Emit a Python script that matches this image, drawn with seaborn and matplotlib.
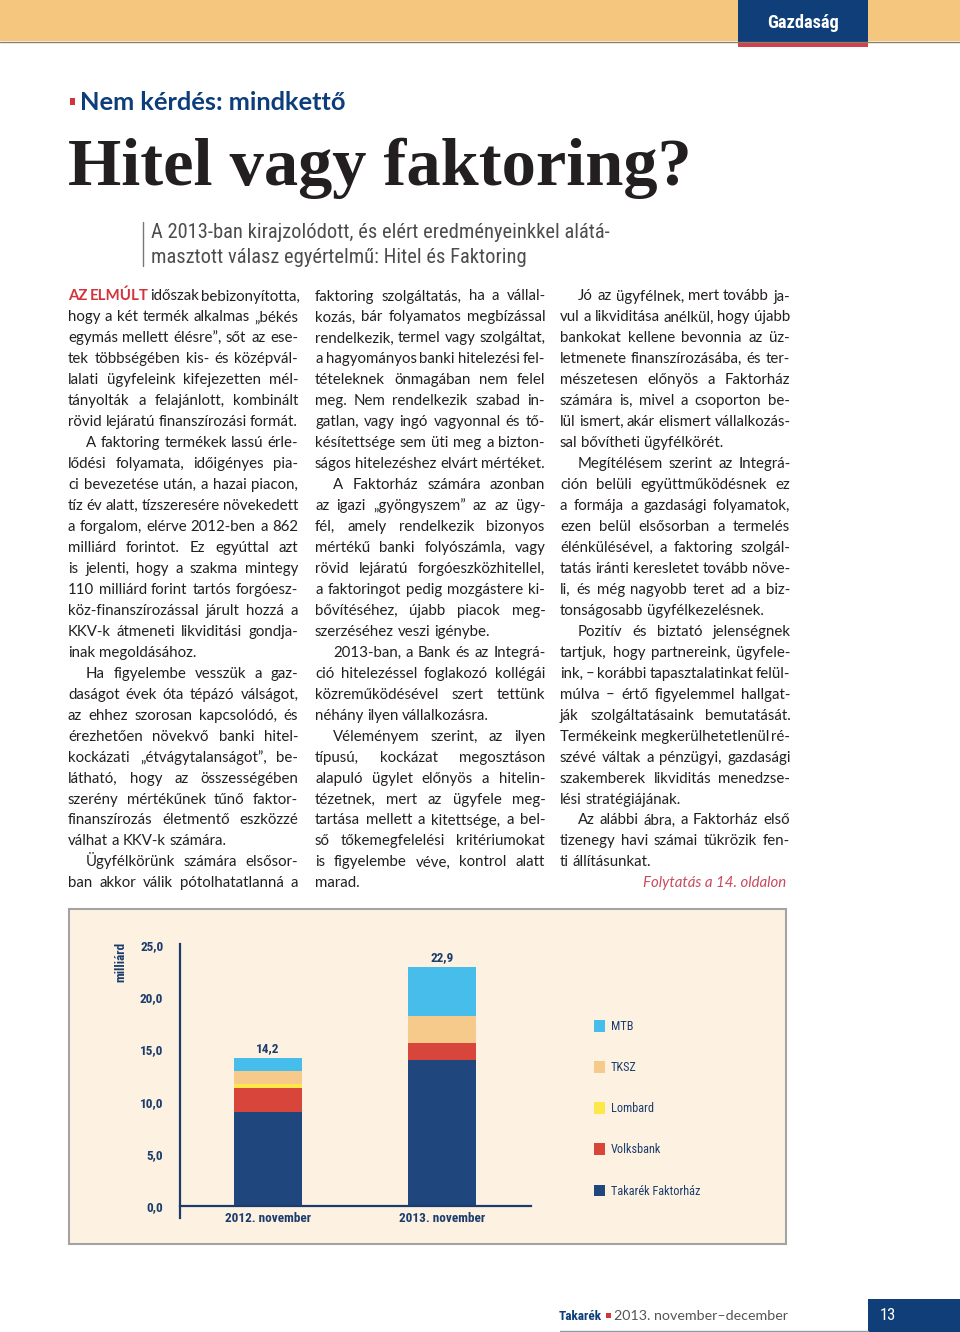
import pandas as pd
import seaborn as sns
import matplotlib
matplotlib.use('Agg')
import matplotlib.pyplot as plt
from matplotlib import font_manager
from matplotlib.patches import Rectangle
from matplotlib.lines import Line2D

W, H = 960, 1332

# chart data (milliard HUF)
periods = ['2012. november', '2013. november']
series_names = ['MTB', 'TKSZ', 'Lombard', 'Volksbank', 'Takarék Faktorház']
mtb = [1.3, 4.7]
tksz = [1.2, 2.6]
lombard = [0.4, 0.0]
volksbank = [2.3, 1.6]
takarek = [9.0, 14.0]
y_ticks = [0, 5, 10, 15, 20, 25]
series_colors = ['#46bdea', '#f5ca8b', '#fde84a', '#d8463b', '#1f477e']

# article text, '\t' marks a paragraph indent
col1 = [
    'AZ ELMÚLT időszak bebizonyította,',
    'hogy a két termék alkalmas „békés',
    'egymás mellett élésre”, sőt az ese-',
    'tek többségében kis- és középvál-',
    'lalati ügyfeleink kifejezetten mél-',
    'tányolták a felajánlott, kombinált',
    'rövid lejáratú finanszírozási formát.',
    '\tA faktoring termékek lassú érle-',
    'lődési folyamata, időigényes pia-',
    'ci bevezetése után, a hazai piacon,',
    'tíz év alatt, tízszeresére növekedett',
    'a forgalom, elérve 2012-ben a 862',
    'milliárd forintot. Ez egyúttal azt',
    'is jelenti, hogy a szakma mintegy',
    '110 milliárd forint tartós forgóesz-',
    'köz-finanszírozással járult hozzá a',
    'KKV-k átmeneti likviditási gondja-',
    'inak megoldásához.',
    '\tHa figyelembe vesszük a gaz-',
    'daságot évek óta tépázó válságot,',
    'az ehhez szorosan kapcsolódó, és',
    'érezhetően növekvő banki hitel-',
    'kockázati „étvágytalanságot”, be-',
    'látható, hogy az összességében',
    'szerény mértékűnek tűnő faktor-',
    'finanszírozás életmentő eszközzé',
    'válhat a KKV-k számára.',
    '\tÜgyfélkörünk számára elsősor-',
    'ban akkor válik pótolhatatlanná a',
]
col2 = [
    'faktoring szolgáltatás, ha a vállal-',
    'kozás, bár folyamatos megbízással',
    'rendelkezik, termel vagy szolgáltat,',
    'a hagyományos banki hitelezési fel-',
    'tételeknek önmagában nem felel',
    'meg. Nem rendelkezik szabad in-',
    'gatlan, vagy ingó vagyonnal és tő-',
    'késítettsége sem üti meg a bizton-',
    'ságos hitelezéshez elvárt mértéket.',
    '\tA Faktorház számára azonban',
    'az igazi „gyöngyszem” az az ügy-',
    'fél, amely rendelkezik bizonyos',
    'mértékű banki folyószámla, vagy',
    'rövid lejáratú forgóeszközhitellel,',
    'a faktoringot pedig mozgástere ki-',
    'bővítéséhez, újabb piacok meg-',
    'szerzéséhez veszi igénybe.',
    '\t2013-ban, a Bank és az Integrá-',
    'ció hitelezéssel foglakozó kollégái',
    'közreműködésével szert tettünk',
    'néhány ilyen vállalkozásra.',
    '\tVéleményem szerint, az ilyen',
    'típusú, kockázat megosztáson',
    'alapuló ügylet előnyös a hitelin-',
    'tézetnek, mert az ügyfele meg-',
    'tartása mellett a kitettsége, a bel-',
    'ső tőkemegfelelési kritériumokat',
    'is figyelembe véve, kontrol alatt',
    'marad.',
]
col3 = [
    '\tJó az ügyfélnek, mert tovább ja-',
    'vul a likviditása anélkül, hogy újabb',
    'bankokat kellene bevonnia az üz-',
    'letmenete finanszírozásába, és ter-',
    'mészetesen előnyös a Faktorház',
    'számára is, mivel a csoporton be-',
    'lül ismert, akár elismert vállalkozás-',
    'sal bővítheti ügyfélkörét.',
    '\tMegítélésem szerint az Integrá-',
    'ción belüli együttműködésnek ez',
    'a formája a gazdasági folyamatok,',
    'ezen belül elsősorban a termelés',
    'élénkülésével, a faktoring szolgál-',
    'tatás iránti keresletet tovább növe-',
    'li, és még nagyobb teret ad a biz-',
    'tonságosabb ügyfélkezelésnek.',
    '\tPozitív és biztató jelenségnek',
    'tartjuk, hogy partnereink, ügyfele-',
    'ink, – korábbi tapasztalatinkat felül-',
    'múlva – értő figyelemmel hallgat-',
    'ják szolgáltatásaink bemutatását.',
    'Termékeink megkerülhetetlenül ré-',
    'szévé váltak a pénzügyi, gazdasági',
    'szakemberek likviditás menedzse-',
    'lési stratégiájának.',
    '\tAz alábbi ábra, a Faktorház első',
    'tizenegy havi számai tükrözik fen-',
    'ti állításunkat.',
]

NAVY = '#1b3c6c'
RED = '#d2343c'
TEXT = '#231f20'

sns.set_theme(style='white')
plt.rcParams['font.family'] = ['Lato', 'DejaVu Sans']
installed = {f.name for f in font_manager.fontManager.ttflist}
NARROW = next((f for f in ['Liberation Sans Narrow', 'Roboto Condensed'] if f in installed), 'Roboto')

fig = plt.figure(figsize=(W / 100, H / 100), dpi=100)
fig.patch.set_facecolor('white')
renderer = fig.canvas.get_renderer()


def px(x):
    return x / W


def py(y):
    return 1 - y / H


def rect(x0, y0, x1, y1, **kw):
    fig.add_artist(Rectangle((px(x0), py(y1)), (x1 - x0) / W, (y1 - y0) / H,
                             transform=fig.transFigure, **kw))


def measure(t):
    return t.get_window_extent(renderer=renderer).width


def fit_text(x, y, s, width, **kw):
    t = fig.text(px(x), py(y), s, fontsize=20, va='baseline', **kw)
    t.set_fontsize(20 * width / measure(t))
    return t


# header band
rect(0, 0, 960, 41, facecolor='#f5c77e', edgecolor='none')
fig.add_artist(Line2D([0, 1], [py(41.5)] * 2, color='#8f7f60', lw=1, transform=fig.transFigure))
rect(738, 0, 868, 42, facecolor='#0f3e78', edgecolor='none')
rect(738, 42, 868, 47, facecolor='#d2404f', edgecolor='none')
fit_text(803, 28, 'Gazdaság', 72, ha='center', color='white', family=NARROW, weight='bold')

# headings
rect(70, 98, 75, 105, facecolor=RED, edgecolor='none')
fit_text(80, 110, 'Nem kérdés: mindkettő', 267, color='#0d3d7a', weight='bold')
fit_text(68, 185, 'Hitel vagy faktoring?', 624, color=TEXT, family='Liberation Serif', weight='bold')
fig.add_artist(Line2D([px(143)] * 2, [py(222), py(266)], color='#777777', lw=1, transform=fig.transFigure))
sub = fit_text(151, 238, 'A 2013-ban kirajzolódott, és elért eredményeinkkel alátá-', 458,
               color='#4d4d4d', family=NARROW)
fig.text(px(151), py(263), 'masztott válasz egyértelmű: Hitel és Faktoring',
         fontsize=sub.get_fontsize(), va='baseline', color='#4d4d4d', family=NARROW)

# body columns, justified word by word
COL_W = 230
INDENT = 18
LEAD = 20.96
BASE0 = 300.5

pa = fig.text(0, 0, 'n n', fontsize=10)
pb = fig.text(0, 0, 'nn', fontsize=10)
space10 = measure(pa) - measure(pb)
pa.remove()
pb.remove()

layout = []
for lines, x0 in [(col1, 68), (col2, 315), (col3, 560)]:
    for i, line in enumerate(lines):
        indent = INDENT if line.startswith('\t') else 0
        words = line.split()
        nxt = lines[i + 1] if i + 1 < len(lines) else None
        ragged = (nxt is None and line.endswith('.')) or (nxt is not None and nxt.startswith('\t'))
        arts = []
        for j, w in enumerate(words):
            if lines is col1 and i == 0 and j < 2:
                kw = dict(color=RED, weight='bold')
            else:
                kw = dict(color=TEXT)
            arts.append(fig.text(0, 0, w, fontsize=10, va='baseline', ha='left', **kw))
        layout.append((x0 + indent, COL_W - indent, i, arts, [measure(a) for a in arts], ragged))

body_size = min(10.8, min(10 * avail / (sum(ws) + 0.35 * space10 * (len(ws) - 1))
                          for _, avail, _, _, ws, _ in layout))
k = body_size / 10
for x, avail, i, arts, widths, ragged in layout:
    ws = [w * k for w in widths]
    gap = space10 * k
    if len(ws) > 1:
        fill = (avail - sum(ws)) / (len(ws) - 1)
        gap = min(gap, fill) if ragged else max(fill, 0.5 * gap)
    y = BASE0 + i * LEAD
    for a, w in zip(arts, ws):
        a.set_fontsize(body_size)
        a.set_position((px(x), py(y)))
        x += w + gap

fig.text(px(786), py(BASE0 + 28 * LEAD), 'Folytatás a 14. oldalon', fontsize=body_size,
         style='italic', color='#c84a5e', ha='right', va='baseline')

# chart panel, kept behind the axes
rect(69, 909, 786, 1244, facecolor='#fdf2e2', edgecolor='#a3a3a3', lw=1.5, zorder=-1)

stack = pd.DataFrame({'Takarék Faktorház': takarek, 'Volksbank': volksbank, 'Lombard': lombard,
                      'TKSZ': tksz, 'MTB': mtb}, index=periods)
tops = stack.cumsum(axis=1)

ax = fig.add_axes([px(180), py(1218), 351 / W, 274 / H])
ax.patch.set_alpha(0)
for name, color in zip(series_names, series_colors):
    sns.barplot(x=periods, y=tops[name].values, color=color, width=0.39, saturation=1,
                linewidth=0, label=name, ax=ax)

totals = stack.sum(axis=1)
ax.bar_label(ax.containers[0], labels=[f'{v:.1f}'.replace('.', ',') for v in totals], padding=2,
             family=NARROW, weight='bold', fontsize=9.5, color=NAVY)

# spine placement first: moving a spine resets its tick labels
ax.spines['bottom'].set_position(('data', 0))
for s in ['top', 'right']:
    ax.spines[s].set_visible(False)
for s in ['left', 'bottom']:
    ax.spines[s].set_color(NAVY)
    ax.spines[s].set_linewidth(1.6)

ax.set_xlim(-0.506, 1.511)
ax.set_ylim(-1.15, 25.1)
ax.set_yticks(y_ticks)
ax.set_yticklabels([f'{t:.1f}'.replace('.', ',') for t in y_ticks])
ax.set_xticks(range(len(periods)))
ax.set_xticklabels(periods)
ax.tick_params(axis='y', length=0, pad=12)
ax.tick_params(axis='x', length=0, pad=4)
plt.setp(ax.get_xticklabels() + ax.get_yticklabels(), family=NARROW, weight='bold',
         fontsize=9.5, color=NAVY)
ax.set_xlabel('')
ax.set_ylabel('milliárd', family=NARROW, weight='bold', fontsize=9.5, color=NAVY)
ax.yaxis.set_label_coords(-0.151, 0.934)
ax.grid(False)

handles, labels = ax.get_legend_handles_labels()
leg = ax.legend(handles, labels, loc='upper left', bbox_to_anchor=(px(594), py(1020)),
                bbox_transform=fig.transFigure, frameon=False, borderpad=0, borderaxespad=0,
                handlelength=0.9, handleheight=1.1, handletextpad=0.5, labelspacing=2.3,
                prop={'family': NARROW, 'size': 8.8})
for t in leg.get_texts():
    t.set_color(NAVY)

# footer
fit_text(559, 1320, 'Takarék', 43, color='#0d3d7a', family=NARROW, weight='bold')
rect(606, 1313, 611, 1318, facecolor=RED, edgecolor='none')
fit_text(614, 1320, '2013. november–december', 174, color='#555555')
fig.add_artist(Line2D([px(560), px(868)], [py(1330.5)] * 2, color='#8a9ab0', lw=1, transform=fig.transFigure))
rect(868, 1299, 960, 1332, facecolor='#0f3e78', edgecolor='none')
fig.text(px(880), py(1320), '13', fontsize=12, color='white', va='baseline', family=NARROW)

fig.savefig('out.png', dpi=100, facecolor='white')
